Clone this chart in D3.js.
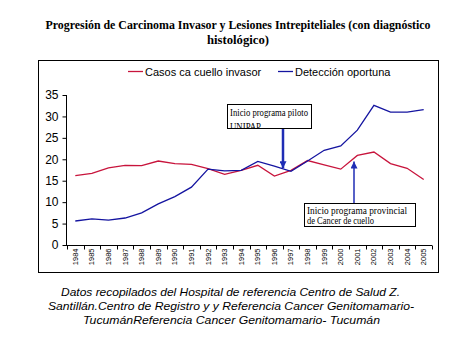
<!DOCTYPE html>
<html><head><meta charset="utf-8">
<script src="https://cdn.jsdelivr.net/npm/d3@7"></script>
<style>body{margin:0;background:#fff;} svg{display:block;}</style>
</head><body>
<svg id="chart" width="476" height="357"></svg>
<script>
const years = ["1984","1985","1986","1987","1988","1989","1990","1991","1992","1993","1994","1995","1996","1997","1998","1999","2000","2001","2002","2003","2004","2005"];
const casosInvasor = [16.2,16.7,18.0,18.6,18.5,19.6,19.0,18.8,17.8,16.5,17.4,18.6,16.1,17.4,19.7,18.7,17.7,20.9,21.7,19.0,17.9,15.3];
const deteccionOportuna = [5.6,6.1,5.8,6.3,7.5,9.6,11.3,13.5,17.7,17.3,17.4,19.5,18.4,17.2,19.6,22.1,23.1,26.8,32.6,31.0,31.0,31.6];
const yTicks = [0,5,10,15,20,25,30,35];
const seriesNames = ["Casos ca cuello invasor","Detección oportuna"];
const seriesColors = ["#c8143c","#1414a0"];
const titleLines = ["Progresión de Carcinoma Invasor y Lesiones Intrepiteliales (con diagnóstico","histológico)"];
const noteLines = ["Datos recopilados del Hospital de referencia Centro de Salud Z.","Santillán.Centro de Registro y y Referencia  Cancer Genitomamario-","TucumánReferencia  Cancer Genitomamario- Tucumán"];
const annot1 = {year:"1997", lines:["Inicio programa piloto","UNIPAP"]};
const annot2 = {year:"2001", lines:["Inicio programa provincial","de Cancer de cuello"]};

const svg = d3.select("#chart");
const defs = svg.append("defs");

// Title
svg.append("text").attr("x",238).attr("y",29).attr("text-anchor","middle")
  .attr("font-family","'Liberation Serif','Times New Roman',serif").attr("font-weight","bold").attr("font-size",13)
  .attr("textLength",385).attr("lengthAdjust","spacingAndGlyphs").text(titleLines[0]);
svg.append("text").attr("x",238).attr("y",44).attr("text-anchor","middle")
  .attr("font-family","'Liberation Serif','Times New Roman',serif").attr("font-weight","bold").attr("font-size",13)
  .attr("textLength",62).attr("lengthAdjust","spacingAndGlyphs").text(titleLines[1]);

// Chart frame
svg.append("rect").attr("x",38.5).attr("y",60.5).attr("width",400).attr("height",212)
  .attr("fill","none").attr("stroke","#000").attr("stroke-width",1);

// Scales
const x = d3.scaleBand().domain(years).range([67,432]);
const y = d3.scaleLinear().domain([0,35]).range([245,95]);

// Y axis
const yAxis = svg.append("g").attr("transform","translate(66.5,0)")
  .call(d3.axisLeft(y).tickValues(yTicks).tickSize(4).tickPadding(4));
yAxis.selectAll("text").attr("font-family","'Liberation Sans',Arial,sans-serif").attr("font-size",12).attr("fill","#000");
yAxis.selectAll("line,path").attr("stroke","#000");
yAxis.select(".domain").attr("d","M0,245.5V95");

// X axis
const xAxisG = svg.append("g").attr("transform","translate(0,245.5)");
xAxisG.append("line").attr("x1",66).attr("x2",432).attr("stroke","#000");
const bounds = years.map(d=>x(d)).concat([x.range()[1]]);
xAxisG.selectAll("line.tk").data(bounds).enter().append("line").attr("class","tk")
  .attr("x1",d=>Math.round(d)+0.5).attr("x2",d=>Math.round(d)+0.5).attr("y1",0).attr("y2",4).attr("stroke","#000");
xAxisG.selectAll("text").data(years).enter().append("text")
  .attr("transform",d=>`translate(${x(d)+x.bandwidth()/2+2.5},3) rotate(-90)`)
  .attr("text-anchor","end").attr("font-family","'Liberation Sans',Arial,sans-serif").attr("font-size",7.5)
  .text(d=>d);

// Lines
const line = d3.line().x((d,i)=>x(years[i])+x.bandwidth()/2).y(d=>y(d));
[casosInvasor,deteccionOportuna].forEach((s,k)=>{
  svg.append("path").datum(s).attr("d",line).attr("fill","none")
    .attr("stroke",seriesColors[k]).attr("stroke-width",1.3);
});

// Legend
const legX = [128,278];
seriesNames.forEach((n,k)=>{
  svg.append("line").attr("x1",legX[k]).attr("x2",legX[k]+15).attr("y1",71.5).attr("y2",71.5)
    .attr("stroke",seriesColors[k]).attr("stroke-width",1.3);
  svg.append("text").attr("x",legX[k]+17).attr("y",75.5).attr("font-family","'Liberation Sans',Arial,sans-serif")
    .attr("font-size",11).text(n);
});

// Arrow markers
function marker(id,w,h,color){
  defs.append("marker").attr("id",id).attr("viewBox","0 0 10 10").attr("refX",10).attr("refY",5)
    .attr("markerUnits","userSpaceOnUse").attr("markerWidth",w).attr("markerHeight",h).attr("orient","auto")
    .append("path").attr("d","M0,0L10,5L0,10z").attr("fill",color);
}
marker("ah1",9,7,"#1f2db5");
marker("ah2",9,7,"#1f2db5");

// Annotation 1
const ax1 = Math.round(x(annot1.year)+x.bandwidth()/2) - 8;
defs.append("clipPath").attr("id","clip1").append("rect").attr("x",227).attr("y",104).attr("width",85).attr("height",25);
svg.append("rect").attr("x",227.5).attr("y",104.5).attr("width",84).attr("height",24).attr("fill","#fff").attr("stroke","#000");
const t1 = svg.append("g").attr("clip-path","url(#clip1)");
annot1.lines.forEach((l,i)=>{
  t1.append("text").attr("x",230).attr("y",116+i*14).attr("font-family","'Liberation Serif','Times New Roman',serif")
    .attr("font-size",9.5).attr("textLength",i==0?78:31).attr("lengthAdjust","spacingAndGlyphs").text(l);
});
svg.append("line").attr("x1",ax1).attr("x2",ax1).attr("y1",129).attr("y2",y(deteccionOportuna[years.indexOf(annot1.year)-1])+2)
  .attr("stroke","#1f2db5").attr("stroke-width",2.5).attr("marker-end","url(#ah1)");

// Annotation 2
const ax2 = Math.round(x(annot2.year)+x.bandwidth()/2) - 3;
svg.append("rect").attr("x",304.5).attr("y",203.5).attr("width",111).attr("height",23).attr("fill","#fff").attr("stroke","#000");
annot2.lines.forEach((l,i)=>{
  svg.append("text").attr("x",307).attr("y",213.5+i*10.5).attr("font-family","'Liberation Serif','Times New Roman',serif")
    .attr("font-size",9.5).attr("textLength",i==0?100:67).attr("lengthAdjust","spacingAndGlyphs").text(l);
});
svg.append("line").attr("x1",ax2).attr("x2",ax2).attr("y1",203).attr("y2",y(casosInvasor[years.indexOf(annot2.year)])+6)
  .attr("stroke","#1f2db5").attr("stroke-width",1.5).attr("marker-end","url(#ah2)");

// Footnote
const noteW = [339,366,297];
const noteX = [61,48,83];
noteLines.forEach((l,i)=>{
  svg.append("text").attr("x",noteX[i]+noteW[i]/2).attr("y",296+i*14).attr("text-anchor","middle")
    .attr("font-family","'Liberation Sans',Arial,sans-serif").attr("font-style","italic").attr("font-size",11.5)
    .attr("textLength",noteW[i]).attr("lengthAdjust","spacingAndGlyphs").text(l);
});
</script>
</body></html>
